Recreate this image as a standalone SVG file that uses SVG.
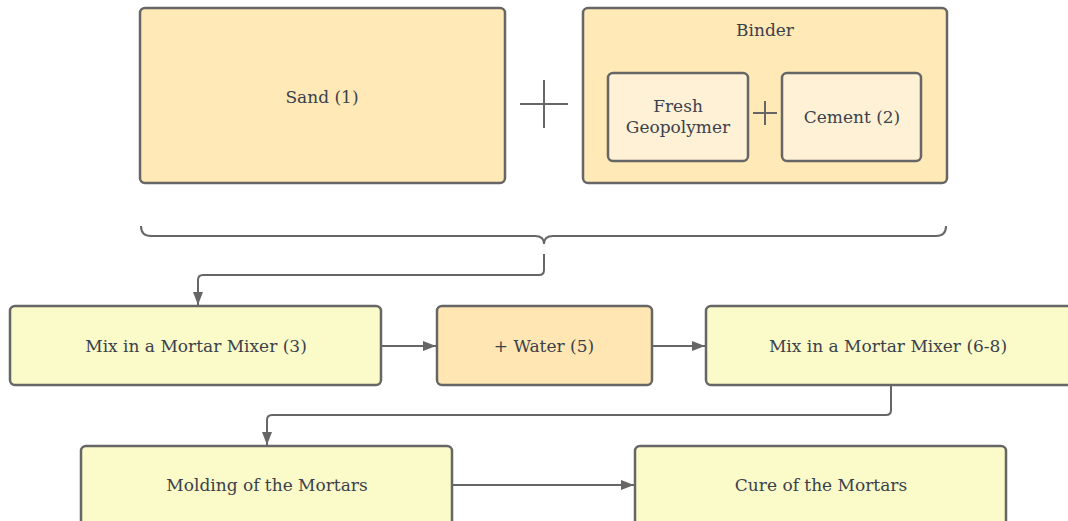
<svg xmlns="http://www.w3.org/2000/svg" width="1068" height="521" viewBox="0 0 1068 521">
  <style>
    .box { stroke: #666; stroke-width: 2.5; }
    .ingredient { fill: #FFE9B6; }
    .part { fill: #FFF1D6; }
    .step { fill: #FBFAC9; }
    .add { fill: #FFE6B2; }
    .lbl { font-family: "DejaVu Serif", "Liberation Serif", serif; font-size: 17px; fill: #3B414C; text-anchor: middle; }
    .wire { fill: none; stroke: #666; stroke-width: 2; }
    .plus { stroke: #666; stroke-width: 2; }
  </style>
  <defs>
    <marker id="arrow" markerUnits="userSpaceOnUse" markerWidth="14" markerHeight="12" refX="13" refY="6" orient="auto">
      <path d="M0,1 L13,6 L0,11 Z" fill="#666"/>
    </marker>
  </defs>
  <rect width="1068" height="521" fill="#fff"/>

  <g id="sand">
    <rect class="box ingredient" x="140" y="8" width="365" height="175" rx="5"/>
    <text class="lbl" x="322" y="103">Sand (1)</text>
  </g>

  <g id="plus-main">
    <line class="plus" x1="520" y1="104" x2="568" y2="104"/>
    <line class="plus" x1="544" y1="80" x2="544" y2="128"/>
  </g>

  <g id="binder">
    <rect class="box ingredient" x="583" y="8" width="364" height="175" rx="5"/>
    <text class="lbl" x="765" y="36">Binder</text>
  </g>

  <g id="geopolymer">
    <rect class="box part" x="608" y="73" width="140" height="88" rx="5"/>
    <text class="lbl" x="678" y="112">Fresh</text>
    <text class="lbl" x="678" y="133">Geopolymer</text>
  </g>

  <g id="plus-binder">
    <line class="plus" x1="753" y1="113" x2="777" y2="113"/>
    <line class="plus" x1="765" y1="101" x2="765" y2="125"/>
  </g>

  <g id="cement">
    <rect class="box part" x="782" y="73" width="139" height="88" rx="5"/>
    <text class="lbl" x="852" y="123">Cement (2)</text>
  </g>

  <g id="mix-1">
    <rect class="box step" x="10" y="306" width="371" height="79" rx="5"/>
    <text class="lbl" x="196" y="352">Mix in a Mortar Mixer (3)</text>
  </g>

  <g id="water">
    <rect class="box add" x="437" y="306" width="215" height="79" rx="5"/>
    <text class="lbl" x="544" y="352">+ Water (5)</text>
  </g>

  <g id="mix-2">
    <rect class="box step" x="706" y="306" width="370" height="79" rx="5"/>
    <text class="lbl" x="888" y="352">Mix in a Mortar Mixer (6-8)</text>
  </g>

  <g id="molding">
    <rect class="box step" x="81" y="446" width="371" height="90" rx="5"/>
    <text class="lbl" x="267" y="491">Molding of the Mortars</text>
  </g>

  <g id="cure">
    <rect class="box step" x="635" y="446" width="371" height="90" rx="5"/>
    <text class="lbl" x="821" y="491">Cure of the Mortars</text>
  </g>

  <g id="connectors">
    <!-- curly brace grouping sand and binder -->
    <path class="wire" d="M141,226 Q141,236 151,236 L535,236 Q544,236 544,244 Q544,236 553,236 L936,236 Q946,236 946,226"/>
    <path class="wire" d="M544,254 L544,270 Q544,275 539,275 L203,275 Q198,275 198,280 L198,305" marker-end="url(#arrow)"/>
    <path class="wire" d="M381,346 L436,346" marker-end="url(#arrow)"/>
    <path class="wire" d="M652,346 L705,346" marker-end="url(#arrow)"/>
    <path class="wire" d="M891,386 L891,410 Q891,415 886,415 L272,415 Q267,415 267,420 L267,445" marker-end="url(#arrow)"/>
    <path class="wire" d="M452,485 L634,485" marker-end="url(#arrow)"/>
  </g>
</svg>
